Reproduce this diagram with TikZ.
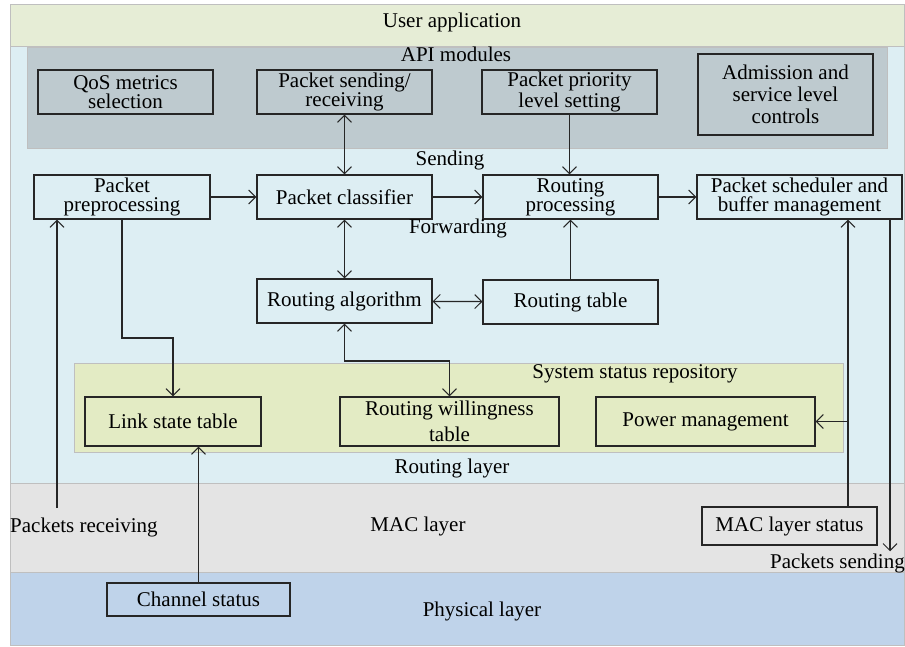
\documentclass[tikz,border=0pt]{standalone}
\usepackage{fontspec}
\setmainfont{Liberation Serif}
\usetikzlibrary{arrows.meta}
\definecolor{appgreen}{HTML}{E6EDD6}
\definecolor{routeblue}{HTML}{DDEEF3}
\definecolor{apigrey}{HTML}{BECACF}
\definecolor{sysgreen}{HTML}{E3EBC4}
\definecolor{macgrey}{HTML}{E4E4E4}
\definecolor{phyblue}{HTML}{BFD3EA}
\begin{document}
\begin{tikzpicture}[x=1pt, y=-1pt,
  txt/.style={font=\fontsize{21}{19}\selectfont},
  box/.style={txt, draw=black!85, line width=1.2pt, minimum width=175pt, minimum height=44pt, inner sep=0pt, align=center},
  band/.style={draw=black!25, line width=1pt},
  lbl/.style={txt, inner sep=0pt},
  arr/.style={-{Straight Barb[length=7pt,width=14pt,line width=1pt]}, line width=1.2pt, black!85},
  dbl/.style={{Straight Barb[length=7pt,width=14pt,line width=1pt]}-{Straight Barb[length=7pt,width=14pt,line width=1pt]}, line width=1.2pt, black!85}]
\useasboundingbox (0,0) rectangle (905,646);
% layers
\draw[band, fill=appgreen] (10,4) rectangle (904,46);
\draw[band, fill=routeblue] (10,46) rectangle (904,483);
\draw[band, fill=apigrey] (27,47) rectangle (887,148);
\draw[band, fill=sysgreen] (74,363) rectangle (843,452);
\draw[band, fill=macgrey] (10,483) rectangle (904,572);
\draw[band, fill=phyblue] (10,572) rectangle (904,645);
\node[lbl] (L_app) at (452,22) {User application};
\node[lbl] (L_api) at (456,54) {API modules};
\node[lbl] (L_sys) at (635,374) {System status repository};
\node[lbl] (L_route) at (452,468) {Routing layer};
\node[lbl] (L_mac) at (418,526) {MAC layer};
\node[lbl] (L_phy) at (482,611) {Physical layer};
% API modules
\node[box, fill=apigrey] (qos) at (125.5,92) {QoS metrics\\selection};
\node[box, fill=apigrey] (sendrecv) at (344.5,92) {Packet sending/\\receiving};
\node[box, fill=apigrey] (prio) at (569.5,92) {Packet priority\\level setting};
\node[box, fill=apigrey, minimum height=81pt] (admit) at (785.5,94.5) {Admission and\\[3pt]service level\\[3pt]controls};
% routing layer
\node[box, minimum width=176pt] (prep) at (122,197) {Packet\\preprocessing};
\node[box] (classif) at (344.5,197) {Packet classifier};
\node[box] (rproc) at (570.5,197) {Routing\\processing};
\node[box, minimum width=205pt] (sched) at (799.5,197) {Packet scheduler and\\buffer management};
\node[box] (ralg) at (344.5,301) {Routing algorithm};
\node[box] (rtab) at (570.5,302) {Routing table};
\node[lbl] (L_send) at (450,160) {Sending};
\node[lbl] (L_fwd) at (458,228) {Forwarding};
% system status repository
\node[box, fill=sysgreen, minimum width=176pt, minimum height=49pt] (link) at (173,421.5) {Link state table};
\node[box, fill=sysgreen, minimum width=219pt, minimum height=49pt] (rwt) at (449.5,421.5) {Routing willingness\\[6pt]table};
\node[box, fill=sysgreen, minimum width=219pt, minimum height=49pt] (power) at (705.5,421.5) {Power management};
% MAC and physical layers
\node[box, minimum height=38pt] (macstat) at (789.5,526) {MAC layer status};
\node[box, minimum width=183pt, minimum height=33pt] (chan) at (198.5,599.5) {Channel status};
\node[lbl, anchor=west] (precv) at (10,527) {Packets receiving};
\node[lbl, anchor=east] (psend) at (905,563) {Packets sending};
% turning points
\coordinate (bendA) at (0,338);
\coordinate (bendB) at (0,361);
\coordinate (upx) at (848,0);
\coordinate (dnx) at (890,0);
\coordinate (rcv) at (57,508);
% connectors
\draw[dbl] (sendrecv) -- (classif);
\draw[arr] (prio.south) -- (prio.south |- rproc.north);
\draw[arr] (prep) -- (classif);
\draw[arr] (classif) -- (rproc);
\draw[arr] (rproc) -- (sched);
\draw[dbl] (classif) -- (ralg);
\draw[dbl] (ralg) -- (rtab);
\draw[arr] (rtab) -- (rproc);
\draw[arr] (prep.south) -- (prep.south |- bendA) -| (link.north);
\draw[dbl] (ralg.south) -- (ralg.south |- bendB) -| (rwt.north);
\draw[arr] (rcv) -- (rcv |- prep.south);
\draw[arr] (chan.north) -- (chan.north |- link.south);
\draw[arr] (macstat.north -| upx) -- (sched.south -| upx);
\draw[arr] (upx |- power.east) -- (power.east);
\draw[arr] (sched.south -| dnx) -- ([yshift=2pt]psend.north -| dnx);
\end{tikzpicture}
\end{document}
